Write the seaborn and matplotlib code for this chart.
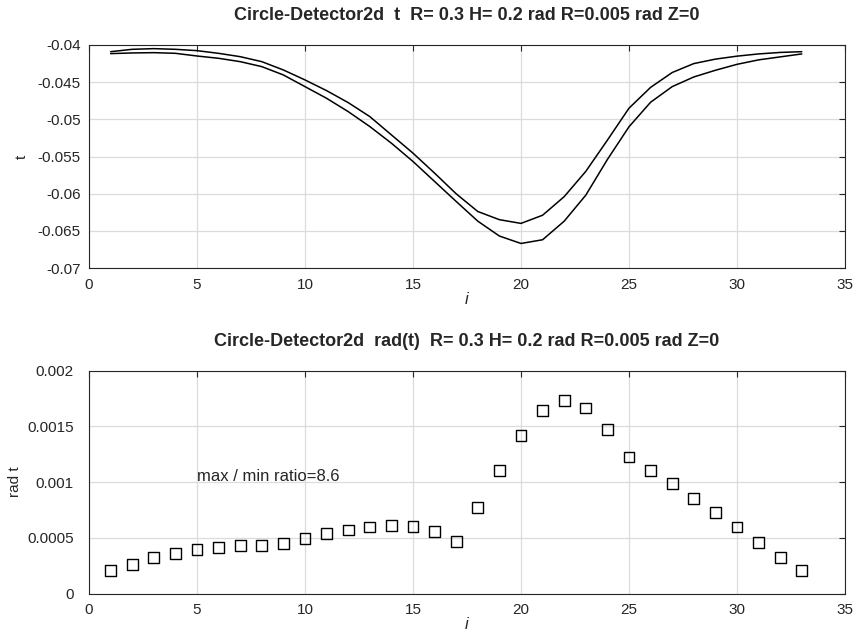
import numpy as np
import pandas as pd
import seaborn as sns
import matplotlib.pyplot as plt

# index along the detector circle
idx = list(range(1, 34))

# t, upper and lower curve
t_upper = [-0.04090, -0.04058, -0.04049, -0.04058, -0.04076, -0.04112, -0.04157,
           -0.04224, -0.04336, -0.04470, -0.04614, -0.04775, -0.04963, -0.05209,
           -0.05455, -0.05724, -0.06002, -0.06240, -0.06350, -0.06400, -0.06290,
           -0.06040, -0.05700, -0.05280, -0.04850, -0.04570, -0.04370, -0.04250,
           -0.04190, -0.04150, -0.04120, -0.04100, -0.04090]
t_lower = [-0.04116, -0.04107, -0.04103, -0.04112, -0.04148, -0.04179, -0.04224,
           -0.04291, -0.04403, -0.04560, -0.04717, -0.04896, -0.05097, -0.05321,
           -0.05567, -0.05836, -0.06105, -0.06370, -0.06570, -0.06670, -0.06620,
           -0.06370, -0.06020, -0.05540, -0.05100, -0.04770, -0.04560, -0.04430,
           -0.04340, -0.04260, -0.04200, -0.04160, -0.04120]

# rad t
rad_t = [0.000204, 0.000263, 0.000320, 0.000359, 0.000392, 0.000413, 0.000428,
         0.000434, 0.000449, 0.000491, 0.000536, 0.000569, 0.000596, 0.000608,
         0.000599, 0.000554, 0.000464, 0.000772, 0.001105, 0.001416, 0.001644,
         0.001730, 0.001665, 0.001473, 0.001225, 0.001102, 0.000988, 0.000856,
         0.000728, 0.000596, 0.000458, 0.000326, 0.000204]

ratio_text = 'max / min ratio=8.6'

sns.set_style('white')
plt.rcParams['font.family'] = ['Liberation Sans', 'DejaVu Sans']

lines = pd.DataFrame({'i': idx * 2,
                      't': t_upper + t_lower,
                      'curve': ['upper'] * len(idx) + ['lower'] * len(idx)})
pts = pd.DataFrame({'i': idx, 'rad': rad_t})

fig = plt.figure(figsize=(8.57, 6.34), dpi=100)
ax1 = fig.add_axes([89 / 857, 1 - 268 / 634, 756 / 857, 223 / 634])
ax2 = fig.add_axes([89 / 857, 1 - 593.5 / 634, 756 / 857, 222.8 / 634])

sns.lineplot(data=lines, x='i', y='t', units='curve', estimator=None,
             color='black', lw=1.1, ax=ax1)
sns.scatterplot(data=pts, x='i', y='rad', marker='s', s=60,
                facecolor='none', edgecolor='black', linewidth=1.0, ax=ax2)

ax1.set_ylim(-0.07, -0.04)
ax1.set_yticks(np.arange(-0.07, -0.0399, 0.005))
ax1.set_yticklabels(['-0.07', '-0.065', '-0.06', '-0.055', '-0.05', '-0.045', '-0.04'])
ax1.set_ylabel('t', fontsize=11)
ax1.yaxis.set_label_coords(-0.079, 0.5)
ax1.set_title('Circle-Detector2d  t  R= 0.3 H= 0.2 rad R=0.005 rad Z=0',
              fontsize=13, fontweight='bold', pad=18)

ax2.set_ylim(0, 0.002)
ax2.set_yticks([0, 0.0005, 0.001, 0.0015, 0.002])
ax2.set_yticklabels(['0', '0.0005', '0.001', '0.0015', '0.002'])
ax2.set_ylabel('rad t', fontsize=11)
ax2.yaxis.set_label_coords(-0.089, 0.5)
ax2.set_title('Circle-Detector2d  rad(t)  R= 0.3 H= 0.2 rad R=0.005 rad Z=0',
              fontsize=13, fontweight='bold', pad=18)
ax2.text(5, 0.00105, ratio_text, fontsize=12, ha='left', va='center')

for ax, ypad in ((ax1, 6), (ax2, 11)):
    ax.set_xlim(0, 35)
    ax.set_xticks(range(0, 36, 5))
    ax.set_xlabel('i', fontsize=12, fontstyle='italic', labelpad=0)
    ax.grid(True, color='#dcdcdc', lw=0.9)
    ax.set_axisbelow(True)
    ax.tick_params(direction='in', length=4, width=0.8, labelsize=11,
                   top=True, right=True, colors='#262626')
    ax.tick_params(axis='x', pad=7)
    ax.tick_params(axis='y', pad=ypad)
    for sp in ax.spines.values():
        sp.set_visible(True)
        sp.set_color('#262626')
        sp.set_linewidth(0.8)

fig.savefig('out.png', dpi=100)
